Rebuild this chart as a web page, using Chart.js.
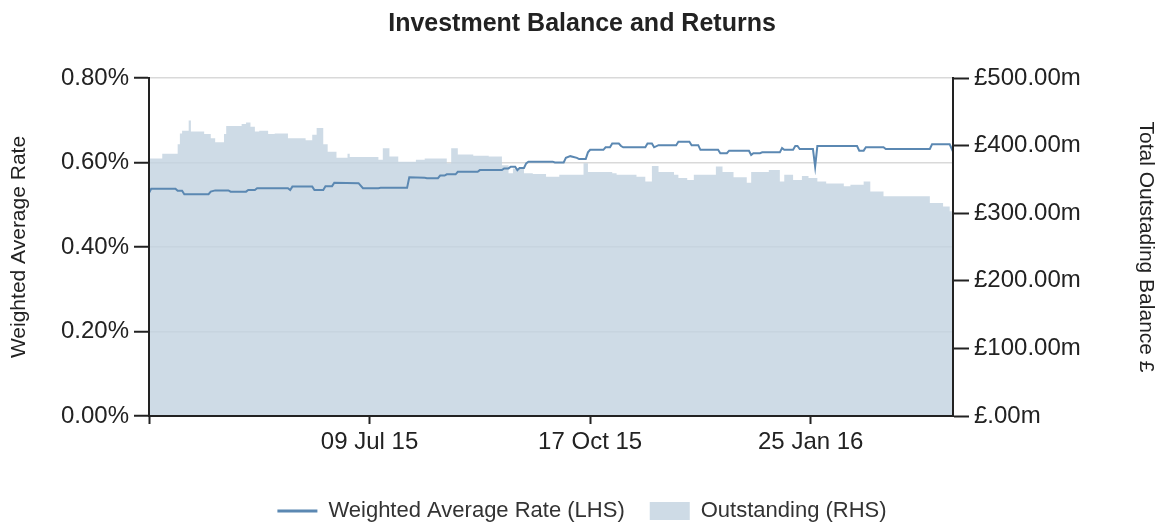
<!DOCTYPE html>
<html><head><meta charset="utf-8">
<script src="https://cdn.jsdelivr.net/npm/chart.js@4.4.0/dist/chart.umd.min.js"></script>
<style>html,body{margin:0;padding:0;background:#fff;}#wrap{width:1164px;height:523px;}</style>
</head><body><div id="wrap"><canvas id="c" width="1164" height="523"></canvas></div>
<script>
// Days counted from 31 Mar 2015
const startDate = '2015-03-31';
const xTickDays = [0, 100, 200, 300];
const xTickLabels = ['', '09 Jul 15', '17 Oct 15', '25 Jan 16'];

// Outstanding balance (£m), stepped: value holds from day onward
const balanceDay = [0,6,13,14,15,18,19,25,28,30,34,35,42,44,46,48,50,54,57,63,71,74,76,79,81,85,90,91,104,106,109,113,121,125,135,137,140,147,154,160,163,165,170,174,180,186,197,199,210,212,221,225,228,231,238,240,244,247,257,260,265,271,273,281,286,288,292,296,299,303,307,315,318,324,327,333,354,360,363,364,364.5];
const balanceValue = [381,388,402,418,422,437,421,417,411,405,417,429,432,434,428,421,422,417,418,411,408,416,426,402,391,382,388,383,379,396,384,376,379,381,374,396,387,385,384,371,359,366,359,358,354,357,374,361,359,357,354,347,370,361,357,352,349,357,369,361,353,345,361,364,347,357,349,355,352,347,344,340,342,347,332,325,315,310,303,295,295];

// Weighted average rate (%)
const rateDay = [0,1,12,13,15,16,27,28,30,36,37,44,45,48,49,63,64,65,74,75,79,80,83,84,95,97,104,105,117,118,125,126,131,132,134,135,139,140,149,150,160,161,163,164,166,167,168,170,171,172,183,184,188,189,191,194,195,198,199,200,206,207,209,210,213,214,215,225,226,228,229,231,239,240,245,246,249,250,258,259,262,263,272,273,274,277,278,286,287,288,292,293,294,295,301,302,303,321,322,324,325,333,334,354,355,363,364.5];
const rateValue = [0.528,0.538,0.538,0.533,0.533,0.525,0.525,0.531,0.534,0.534,0.531,0.531,0.535,0.535,0.539,0.539,0.535,0.543,0.543,0.535,0.535,0.544,0.544,0.552,0.551,0.539,0.539,0.540,0.540,0.565,0.564,0.563,0.563,0.569,0.569,0.572,0.572,0.578,0.578,0.582,0.582,0.586,0.586,0.590,0.590,0.582,0.587,0.587,0.598,0.602,0.602,0.600,0.600,0.611,0.615,0.611,0.608,0.608,0.624,0.630,0.630,0.636,0.636,0.645,0.645,0.639,0.636,0.636,0.645,0.645,0.636,0.641,0.641,0.649,0.649,0.641,0.641,0.630,0.630,0.622,0.622,0.628,0.628,0.618,0.622,0.622,0.624,0.624,0.634,0.630,0.630,0.639,0.639,0.632,0.632,0.590,0.639,0.639,0.628,0.628,0.636,0.636,0.632,0.632,0.643,0.643,0.626];

const rateTickValues = [0, 0.2, 0.4, 0.6, 0.8];
const balanceTickValues = [0, 100, 200, 300, 400, 500];

const FONT = '"Liberation Sans", Arial, sans-serif';
const TXT = '#222';
const AREA = 'rgba(194,210,224,0.8)';
const LINE = '#5b88b2';

const ratePts = rateDay.map((d, i) => ({x: d, y: rateValue[i]}));
const balPts = balanceDay.map((d, i) => ({x: d, y: balanceValue[i]}));

new Chart(document.getElementById('c'), {
  type: 'line',
  data: {
    datasets: [
      {
        label: 'Weighted Average Rate (LHS)',
        data: ratePts,
        yAxisID: 'y',
        borderColor: LINE,
        backgroundColor: LINE,
        borderWidth: 2,
        pointRadius: 0,
        pointStyle: 'line',
        tension: 0,
        fill: false
      },
      {
        label: 'Outstanding (RHS)',
        data: balPts,
        yAxisID: 'y1',
        stepped: true,
        borderWidth: 0,
        borderColor: AREA,
        backgroundColor: AREA,
        pointRadius: 0,
        pointStyle: 'rect',
        fill: 'start'
      }
    ]
  },
  options: {
    responsive: false,
    animation: false,
    devicePixelRatio: 1,
    layout: {padding: {left: 0, right: 0, top: 0, bottom: -9}},
    plugins: {
      title: {
        display: true,
        text: 'Investment Balance and Returns',
        color: TXT,
        font: {family: FONT, size: 25, weight: 'bold'},
        padding: {top: 9, bottom: 39}
      },
      legend: {
        position: 'bottom',
        labels: {
          usePointStyle: true,
          pointStyleWidth: 40,
          boxHeight: 18,
          padding: 25,
          color: '#333',
          font: {family: FONT, size: 22},
          generateLabels: chart => {
            const items = Chart.defaults.plugins.legend.labels.generateLabels(chart);
            items.forEach(it => { if (it.datasetIndex === 0) it.lineWidth = 3; });
            return items;
          }
        }
      },
      tooltip: {enabled: false}
    },
    scales: {
      x: {
        type: 'linear',
        min: 0,
        max: 364.5,
        afterBuildTicks: s => { s.ticks = xTickDays.map(v => ({value: v})); },
        afterFit: s => { s.height = 59; },
        ticks: {
          callback: (v) => xTickLabels[xTickDays.indexOf(v)] ?? '',
          color: TXT, font: {family: FONT, size: 24}, padding: 4,
          maxRotation: 0, autoSkip: false
        },
        grid: {drawOnChartArea: false, tickLength: 8, tickColor: TXT, tickWidth: 2},
        border: {color: TXT, width: 2, z: 1}
      },
      y: {
        position: 'left',
        min: 0, max: 0.8,
        afterBuildTicks: s => { s.ticks = rateTickValues.map(v => ({value: v})); },
        afterFit: s => { s.width = 149; },
        ticks: {
          callback: v => v.toFixed(2) + '%',
          color: TXT, font: {family: FONT, size: 24}, padding: 5
        },
        grid: {color: '#d9d9d9', lineWidth: 1.5, tickColor: TXT, tickLength: 15, tickWidth: 2},
        border: {color: TXT, width: 2, z: 1},
        title: {display: true, text: 'Weighted Average Rate', color: TXT, font: {family: FONT, size: 21}, padding: {top: 7, bottom: 0}}
      },
      y1: {
        position: 'right',
        min: 0, max: 500,
        afterBuildTicks: s => { s.ticks = balanceTickValues.map(v => ({value: v})); },
        afterFit: s => { s.width = 211; },
        ticks: {
          callback: v => '£' + (v === 0 ? '.00' : v.toFixed(2)) + 'm',
          color: TXT, font: {family: FONT, size: 24}, padding: 5
        },
        grid: {drawOnChartArea: false, tickColor: TXT, tickLength: 16, tickWidth: 2},
        border: {color: TXT, width: 2, z: 1},
        title: {display: true, text: 'Total Outstading Balance £', color: TXT, font: {family: FONT, size: 21}, padding: {top: 6, bottom: 0}}
      }
    }
  }
});
</script>
</body></html>
